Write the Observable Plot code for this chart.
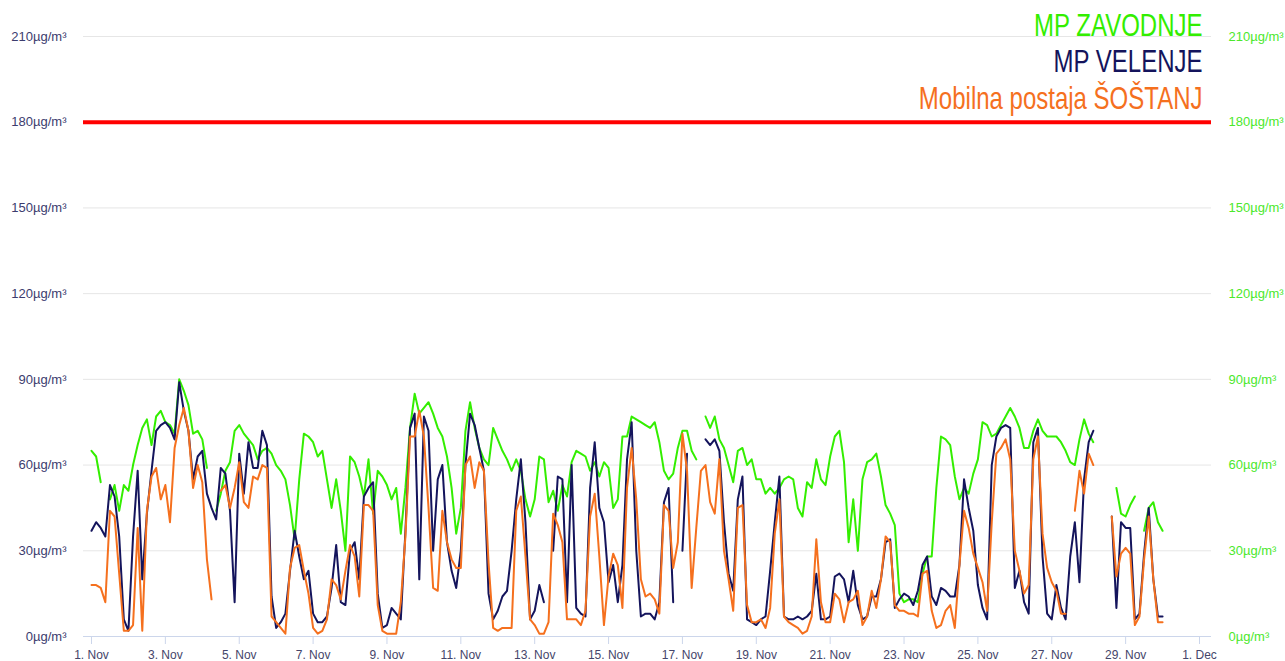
<!DOCTYPE html>
<html><head><meta charset="utf-8">
<script src="https://cdn.jsdelivr.net/npm/d3@7"></script>
<script src="https://cdn.jsdelivr.net/npm/@observablehq/plot@0.6"></script>
<style>html,body{margin:0;padding:0;background:#fff;overflow:hidden}</style>
</head><body><div id="chart"></div>
<script>
// ---- data (3-hour steps from 1 Nov 00:00, null = no measurement) ----
const startUTC = Date.UTC(2022, 10, 1);
const stepHours = 3;
const seriesNames = ["MP ZAVODNJE", "MP VELENJE", "Mobilna postaja ŠOŠTANJ"];
const seriesColors = ["#33ee00", "#14145c", "#f5701e"];

const zavodnje = [65,63,54,null,48,53,44,53,51,60,67,73,76,67,77,79,75,74,71,90,86,81,71,72,69,59,null,44,50,58,61,72,74,71,69,67,62,65,66,64,60,58,55,46,34,55,71,70,
68,63,65,55,45,55,44,30,63,61,56,49,62,43,58,56,53,48,52,36,52,73,85,78,80,82,78,73,70,63,52,36,45,72,82,73,66,62,60,73,69,65,62,58,62,58,48,42,
48,63,62,47,51,44,53,49,61,65,64,63,58,61,56,61,59,45,48,70,70,77,76,75,74,73,75,68,58,55,57,66,72,72,65,62,null,77,73,77,69,66,60,54,65,66,60,62,
55,55,50,52,50,52,55,56,55,45,42,54,52,62,55,53,63,70,72,61,33,48,30,55,61,62,64,56,46,43,39,15,12,13,13,12,22,28,28,52,70,69,67,56,48,52,50,57,
62,75,74,70,71,74,77,80,77,73,66,66,72,76,72,70,70,70,68,65,61,60,69,76,71,68,null,null,null,null,52,43,42,46,49,null,37,45,47,40,37];

const velenje = [37,40,38,35,53,49,35,6,2,35,58,20,43,58,72,74,75,73,69,89,79,72,55,63,65,50,45,41,59,57,44,12,64,50,68,59,59,72,67,14,3,5,8,23,37,28,20,23,
8,5,5,7,17,32,12,11,30,33,20,49,52,54,15,3,4,10,8,6,37,73,78,20,77,72,30,55,60,33,23,17,30,60,78,74,66,58,15,6,9,14,16,30,48,62,40,6,
9,18,12,null,30,56,55,12,60,10,8,7,52,68,45,40,19,25,12,25,62,75,30,7,8,8,6,12,47,52,12,null,30,64,null,null,null,69,67,69,65,40,22,16,48,56,6,5,
4,6,7,23,40,56,7,6,6,7,6,7,9,22,6,6,7,21,22,20,12,23,11,6,7,14,14,20,33,34,10,13,15,14,11,16,25,28,14,11,17,16,14,14,25,55,45,37,
18,10,6,60,70,73,74,73,17,23,12,8,68,73,28,8,6,18,10,6,28,40,19,55,68,72,null,null,null,42,10,40,38,38,6,8,29,45,20,7,7];

const sostanj = [18,18,17,12,44,42,22,2,2,4,38,2,44,56,59,48,53,40,66,74,80,72,52,60,54,27,13,null,51,53,45,52,61,47,45,56,55,60,59,7,5,3,1,24,31,32,23,15,
3,1,2,6,20,18,13,23,32,28,14,46,46,44,11,2,1,1,1,12,35,70,70,79,70,45,17,16,44,33,27,24,24,60,63,52,61,58,26,3,2,3,3,3,44,49,28,6,
4,1,1,5,43,39,33,6,6,6,4,9,42,50,28,4,21,29,25,10,52,66,48,20,14,15,13,8,46,44,24,33,71,58,17,38,58,60,47,43,62,30,20,9,45,46,11,5,
5,6,3,10,36,48,7,5,4,3,1,2,7,34,12,5,5,15,13,5,12,13,16,4,7,16,10,20,35,33,11,9,9,8,8,7,22,23,9,3,4,9,11,3,25,44,38,29,
24,19,9,40,64,66,69,62,30,23,15,18,62,70,36,24,19,16,8,8,null,44,58,50,64,60,null,null,null,42,21,29,31,29,4,7,27,42,20,5,5];

const yTicks = [0, 30, 60, 90, 120, 150, 180, 210];
const yUnit = "µg/m³";
const limitValue = 180;
const xTickLabels = ["1. Nov","3. Nov","5. Nov","7. Nov","9. Nov","11. Nov","13. Nov","15. Nov","17. Nov","19. Nov","21. Nov","23. Nov","25. Nov","27. Nov","29. Nov","1. Dec"];

// ---- build ----
const H = 3600e3, D = 24 * H;
const toRows = vals => vals.map((v, i) => ({date: new Date(startUTC + i * stepHours * H), value: v == null ? NaN : v}));
const allSeries = [zavodnje, velenje, sostanj].map(toRows);
const xTickDates = xTickLabels.map((_, i) => new Date(startUTC + i * 2 * D));
const labelMap = new Map(xTickDates.map((d, i) => [+d, xTickLabels[i]]));
const yFmt = d => `${d}${yUnit}`;
const legendBaselines = [35, 71, 108];
const legendStretch = 1.3;

const marks = [
  Plot.gridY({ticks: yTicks, stroke: "#e6e6e6", strokeOpacity: 1}),
  Plot.ruleY([0], {stroke: "#ccd6eb"}),
  Plot.axisX({ticks: xTickDates, tickSize: 8, tickPadding: 6, stroke: "#ccd6eb", fill: "#45456a", tickFormat: d => labelMap.get(+d), label: null, fontSize: 12}),
  Plot.axisY({ticks: yTicks, anchor: "left", tickSize: 0, tickPadding: 17, fill: "#3c3c6e", tickFormat: yFmt, label: null, fontSize: 13}),
  Plot.axisY({ticks: yTicks, anchor: "right", tickSize: 0, tickPadding: 17, fill: "#4be82c", tickFormat: yFmt, label: null, fontSize: 13})
];
allSeries.forEach((rows, i) => {
  marks.push(Plot.line(rows, {x: "date", y: "value", stroke: seriesColors[i], strokeWidth: 2, curve: "linear"}));
});
marks.push(Plot.ruleY([limitValue], {stroke: "#ff0000", strokeWidth: 4}));
seriesNames.forEach((name, i) => {
  marks.push(Plot.text([name], {
    frameAnchor: "top-right", dx: -9, dy: legendBaselines[i] - 36, lineAnchor: "bottom",
    fontSize: 24, fill: seriesColors[i],
    fontFamily: "'Liberation Sans',Arial,sans-serif"
  }));
});

const svg = Plot.plot({
  width: 1285, height: 661,
  marginLeft: 83, marginRight: 74, marginTop: 36, marginBottom: 25,
  style: {fontFamily: "'Liberation Sans', Arial, sans-serif", fontSize: "13px", background: "#fff"},
  x: {type: "utc", domain: [new Date(startUTC - 5.2 * H), new Date(startUTC + 30 * D + 7.8 * H)]},
  y: {domain: [0, 210]},
  marks
});
document.getElementById("chart").appendChild(svg);

// stretch the legend labels vertically around their baseline (tall, narrow legend lettering)
d3.select(svg).selectAll("text").each(function () {
  if (seriesNames.indexOf(this.textContent) < 0) return;
  const sel = d3.select(this);
  const tr = sel.attr("transform");
  if (tr && /translate/.test(tr)) {
    sel.attr("transform", `${tr} scale(1,${legendStretch})`);
  } else {
    const x = +sel.attr("x") || 0, y = +sel.attr("y") || 0;
    sel.attr("x", 0).attr("y", 0).attr("transform", `translate(${x},${y}) scale(1,${legendStretch})`);
  }
});
</script>
</body></html>
